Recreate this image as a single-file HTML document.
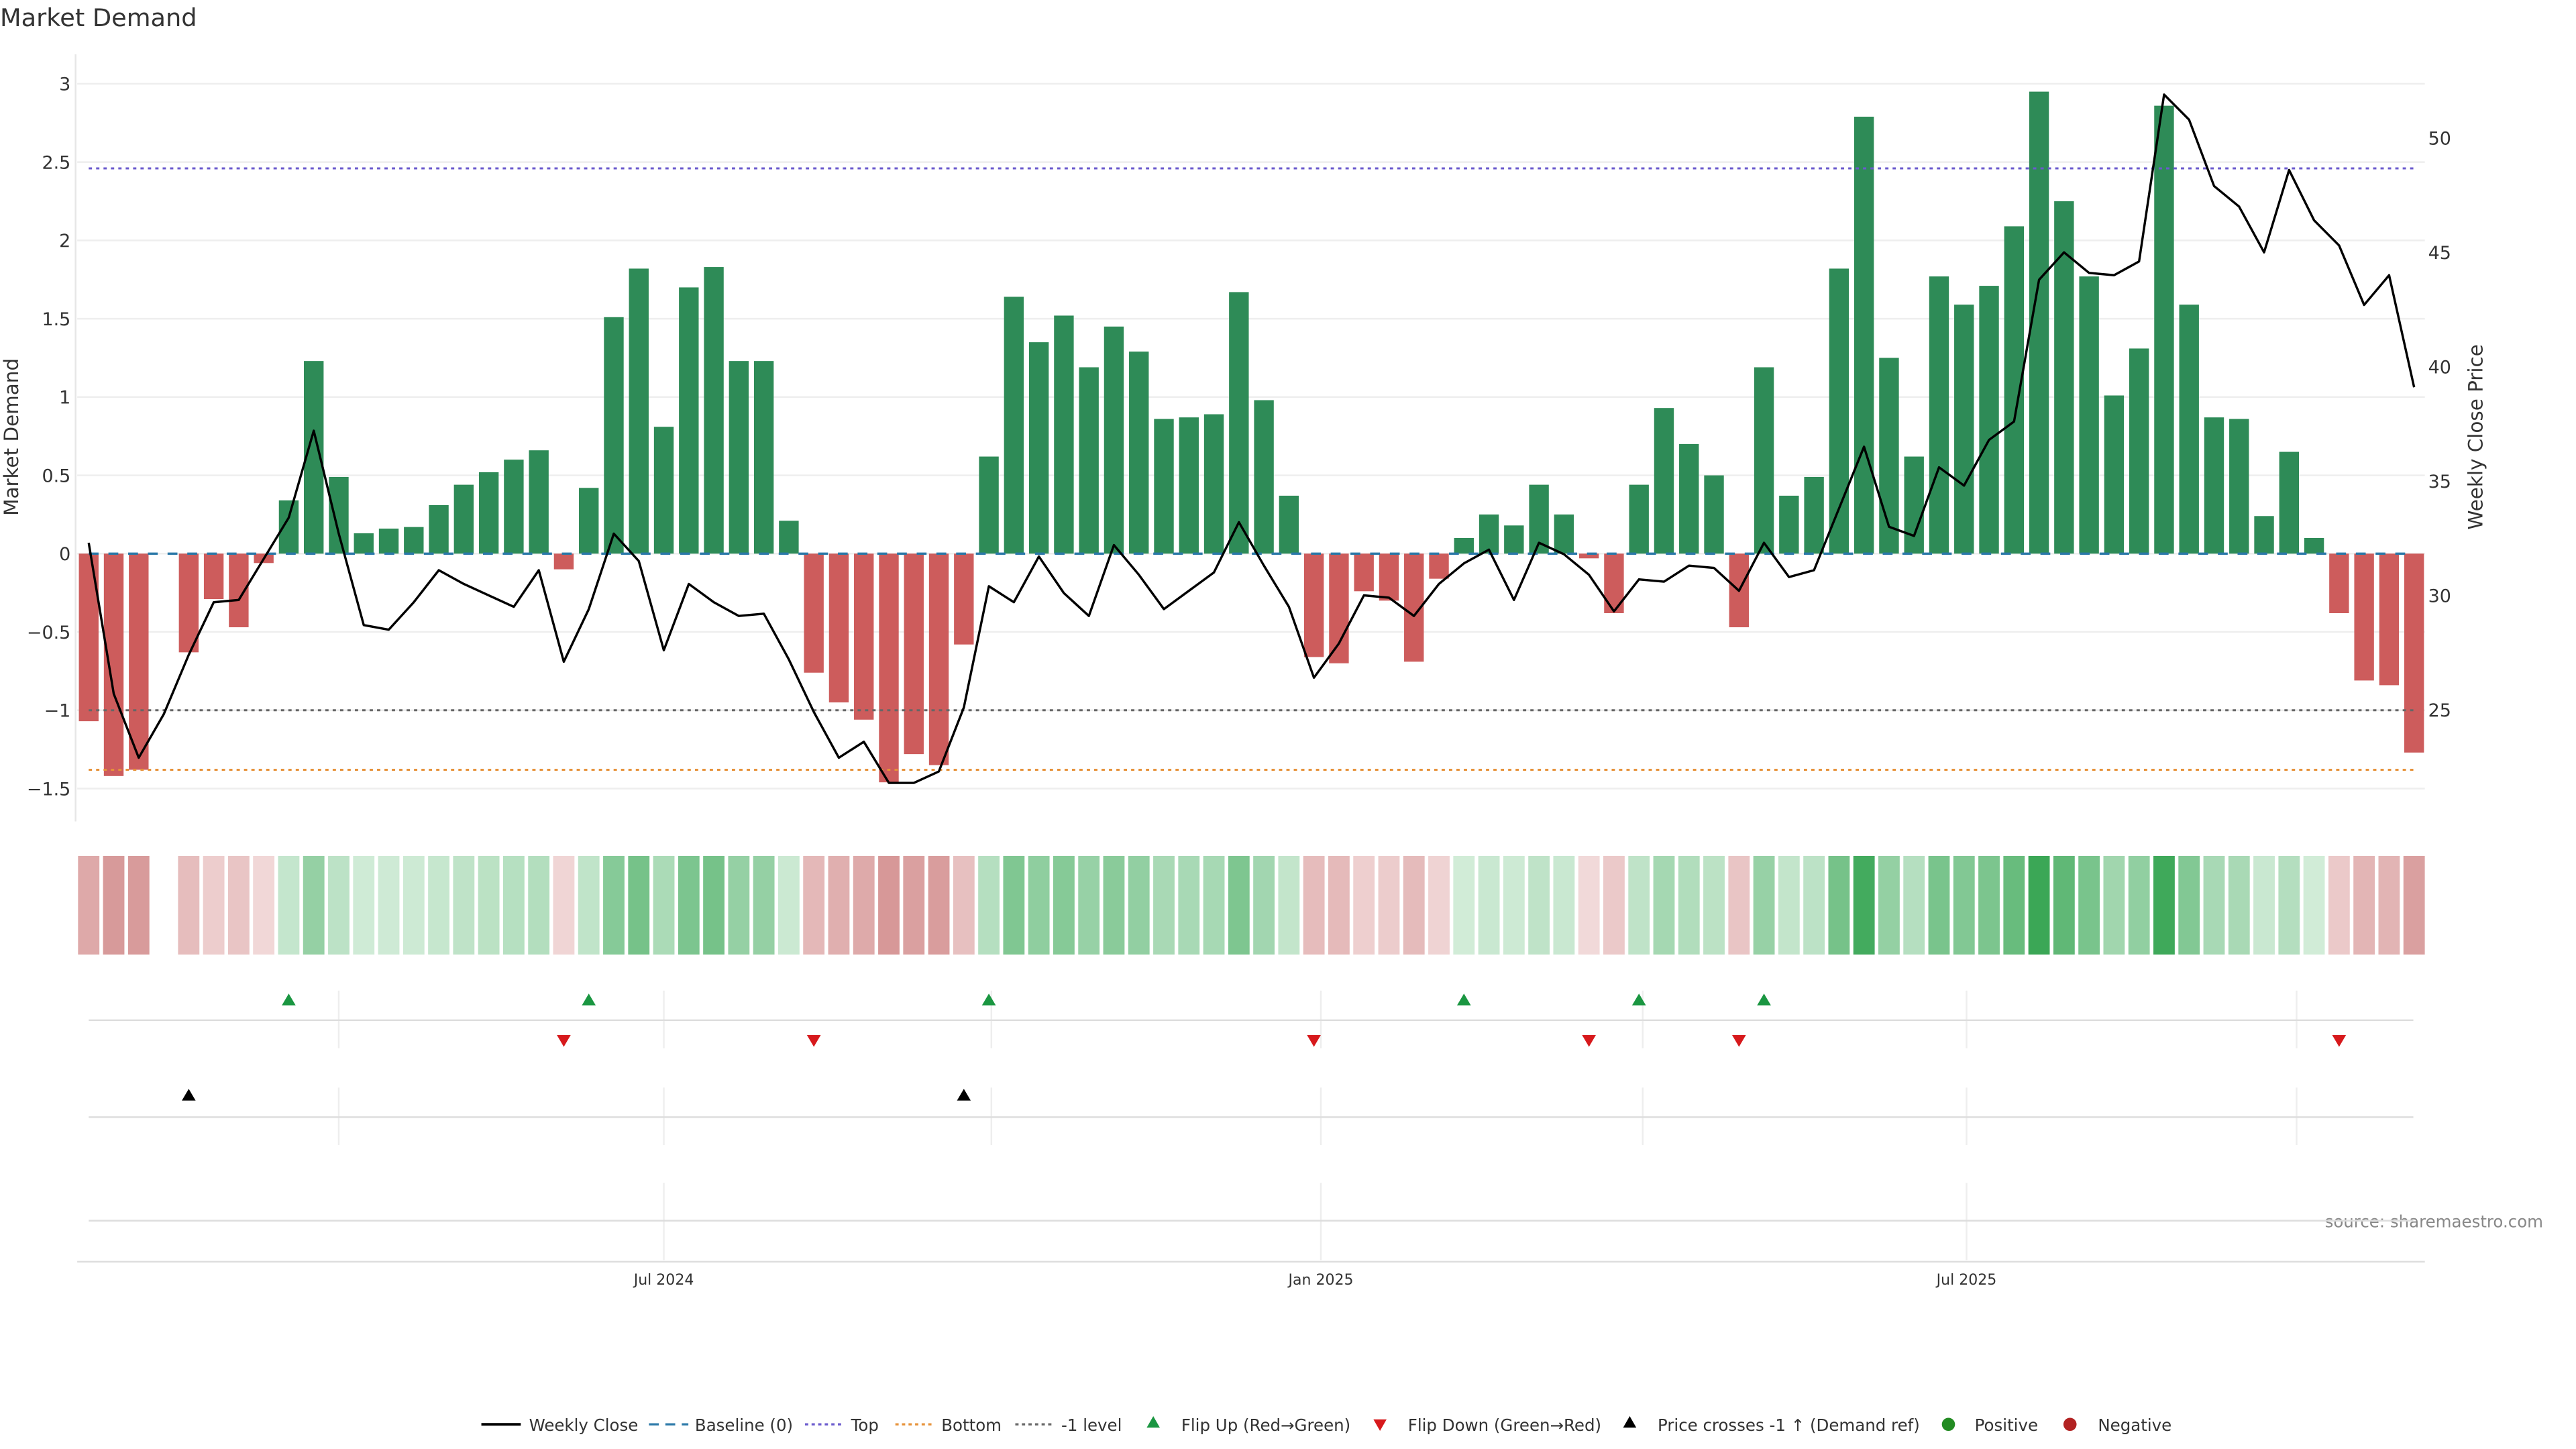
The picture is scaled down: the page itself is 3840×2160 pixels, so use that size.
<!DOCTYPE html>
<html><head><meta charset="utf-8"><style>
html,body{margin:0;padding:0;background:#fff;}
svg{display:block;font-family:"DejaVu Sans","Liberation Sans",sans-serif;}
</style></head><body>
<svg id="c" width="3840" height="2160" viewBox="0 0 1568 882" xmlns="http://www.w3.org/2000/svg">
<text x="0" y="16" font-size="15" fill="#333">Market Demand</text>
<text transform="translate(11,266) rotate(-90)" text-anchor="middle" font-size="12" fill="#333">Market Demand</text>
<text transform="translate(1511,266) rotate(-90)" text-anchor="middle" font-size="12" fill="#333">Weekly Close Price</text>
<text x="1548" y="747" text-anchor="end" font-size="10" fill="#888">source: sharemaestro.com</text>
<g id="grid"></g><g id="marks"></g>
</svg>
<script>
const demand=[-1.07,-1.42,-1.38,null,-0.63,-0.29,-0.47,-0.06,0.34,1.23,0.49,0.13,0.16,0.17,0.31,0.44,0.52,0.60,0.66,-0.10,0.42,1.51,1.82,0.81,1.70,1.83,1.23,1.23,0.21,-0.76,-0.95,-1.06,-1.46,-1.28,-1.35,-0.58,0.62,1.64,1.35,1.52,1.19,1.45,1.29,0.86,0.87,0.89,1.67,0.98,0.37,-0.66,-0.70,-0.24,-0.30,-0.69,-0.16,0.10,0.25,0.18,0.44,0.25,-0.03,-0.38,0.44,0.93,0.70,0.50,-0.47,1.19,0.37,0.49,1.82,2.79,1.25,0.62,1.77,1.59,1.71,2.09,2.95,2.25,1.77,1.01,1.31,2.86,1.59,0.87,0.86,0.24,0.65,0.10,-0.38,-0.81,-0.84,-1.27];
const price=[32.3,25.7,22.9,24.8,27.4,29.7,29.8,31.6,33.4,37.2,32.7,28.7,28.5,29.7,31.1,30.5,30.0,29.5,31.1,27.1,29.4,32.7,31.5,27.6,30.5,29.7,29.1,29.2,27.2,24.9,22.9,23.6,21.8,21.8,22.3,25.1,30.4,29.7,31.7,30.1,29.1,32.2,30.9,29.4,30.2,31.0,33.2,31.3,29.5,26.4,27.9,30.0,29.9,29.1,30.5,31.4,32.0,29.8,32.3,31.8,30.9,29.3,30.7,30.6,31.3,31.2,30.2,32.3,30.8,31.1,33.8,36.5,33.0,32.6,35.6,34.8,36.8,37.6,43.8,45.0,44.1,44.0,44.6,51.9,50.8,47.9,47.0,45.0,48.6,46.4,45.3,42.7,44.0,39.1];
const leftTicks=[3,2.5,2,1.5,1,0.5,0,-0.5,-1,-1.5];
const rightTicks=[50,45,40,35,30,25];
const refLevels={top:2.46,bottom:-1.38,minus1:-1};
const xLabels=["Jul 2024","Jan 2025","Jul 2025"];
const xLabelIdx=[23.0,49.28,75.1];
const quarterIdx=[10.0,23.0,36.1,49.28,62.15,75.1,88.3];

const NS="http://www.w3.org/2000/svg";
const X=i=>54+15.22*i;
const Y=v=>337-v*95.33;
const Y2=p=>84+(50-p)*13.92;
const pxToY2val=y=>50-(y-84)/13.92;
const grid=document.getElementById('grid'),marks=document.getElementById('marks');
function mk(tag,attrs,parent,text){const e=document.createElementNS(NS,tag);for(const k in attrs)e.setAttribute(k,attrs[k]);if(text!==undefined)e.textContent=text;parent.appendChild(e);return e;}
const fmt=v=>(v<0?"\u2212":"")+Math.abs(v);

leftTicks.forEach(t=>{
  const g=mk('line',{x1:47,x2:1476,y1:Y(t),y2:Y(t),stroke:'#eeeeee','stroke-width':1},grid);
  
  
  const l=mk('text',{x:43,y:Y(t)+4,'text-anchor':'end','font-size':11,fill:'#333'},grid,fmt(t));
  
  
});
rightTicks.forEach(t=>{
  const l=mk('text',{x:1478,y:Y2(t)+4,'font-size':11,fill:'#333'},grid,String(t));
  
  
});
const sp=mk('line',{x1:46,x2:46,y1:33,y2:500,stroke:'#e6e6e6','stroke-width':1},grid);



demand.forEach((v,i)=>{
  if(v===null)return;
  const y0=Y(0),y1=Y(v);
  const b=mk('rect',{x:X(i)-6,width:12,y:Math.min(y0,y1),height:Math.abs(y1-y0),fill:v>=0?'#2e8b57':'#cd5c5c'},marks);
  
  
});
[[refLevels.top,'#6a5acd','2,2.5'],[refLevels.bottom,'#e69138','2,2.5'],[refLevels.minus1,'#666','2,2.5'],[0,'#2a78a8','6,6']].forEach((r,k)=>{
  const l=mk('line',{x1:54,x2:1469,y1:Y(r[0]),y2:Y(r[0]),stroke:r[1],'stroke-width':k==3?1.4:1.2,'stroke-dasharray':r[2]},marks);
  
  
});
const pl=mk('polyline',{points:price.map((p,i)=>X(i)+','+Y2(p)).join(' '),fill:'none',stroke:'#000','stroke-width':1.4,'stroke-linejoin':'round'},marks);



function mix(a,b,t){return 'rgb('+a.map((c,j)=>Math.round(c+(b[j]-c)*t)).join(',')+')';}
demand.forEach((v,i)=>{
  if(v===null)return;
  let c;
  if(v>=0)c=mix([214,238,220],[56,166,84],Math.min(1,v/3));
  else c=mix([242,218,218],[214,150,150],Math.min(1,-v/1.5));
  const r=mk('rect',{x:X(i)-6.5,y:521,width:13,height:60,fill:c},marks);
  
  
});

[[603,638,621],[662,697,680],[720,767,743]].forEach((p,k)=>{
  const qs=k==2?xLabelIdx:quarterIdx;
  qs.forEach(q=>{const g=mk('line',{x1:X(q),x2:X(q),y1:p[0],y2:p[1],stroke:'#eeeeee'},grid);
    
    });
  const h=mk('line',{x1:54,x2:1469,y1:p[2],y2:p[2],stroke:'#dddddd'},grid);
  
  
});
const ax=mk('line',{x1:47,x2:1476,y1:768,y2:768,stroke:'#dddddd'},grid);


xLabels.forEach((t,k)=>{
  const l=mk('text',{x:X(xLabelIdx[k]),y:782,'text-anchor':'middle','font-size':9,fill:'#333'},grid,t);
  
  
});
function tri(x,y,up,col,name){
  const s=4.2;
  const pts=up?`${x},${y-s} ${x-s},${y+s*0.7} ${x+s},${y+s*0.7}`:`${x},${y+s} ${x-s},${y-s*0.7} ${x+s},${y-s*0.7}`;
  const t=mk('polygon',{points:pts,fill:col},marks);
  
  
}
for(let i=1;i<demand.length;i++){
  let j=i-1;while(j>=0&&demand[j]===null)j--;
  const a=demand[j],b=demand[i];
  if(b===null||j<0)continue;
  if(a<0&&b>=0)tri(X(i),609,true,'#1a9641','flip-up-marker');
  if(a>=0&&b<0)tri(X(i),633,false,'#d7191c','flip-down-marker');
}
const thrPrice=pxToY2val(Y(refLevels.minus1));
for(let i=1;i<price.length;i++){
  if(price[i-1]<thrPrice&&price[i]>=thrPrice)tri(X(i),667,true,'#000','price-cross-marker');
}

const lg=mk('g',{},marks);


const items=[['line','#000','','Weekly Close',293,322],['line','#2a78a8','6,4','Baseline (0)',395,423],['line','#6a5acd','2,2','Top',490,518],['line','#e69138','2,2','Bottom',545,573],['line','#666','2,2','-1 level',618,646],['up','#1a9641','','Flip Up (Red\u2192Green)',702,719],['down','#d7191c','','Flip Down (Green\u2192Red)',840,857],['up','#000','','Price crosses -1 \u2191 (Demand ref)',992,1009],['dot','#228b22','','Positive',1186,1202],['dot','#b22222','','Negative',1260,1277]];
items.forEach(it=>{
  const x=it[4],y=867;
  const g=mk('g',{},lg);
  
  
  if(it[0]=='line'){mk('line',{x1:x,x2:x+24,y1:y,y2:y,stroke:it[1],'stroke-width':it[3]=='Weekly Close'?1.6:1.3,'stroke-dasharray':it[2]},g);}
  else if(it[0]=='dot'){mk('circle',{cx:x,cy:y,r:4,fill:it[1]},g);}
  else{const s=4;mk('polygon',{points:it[0]=='up'?`${x},${y-s-1} ${x-s},${y+s-2} ${x+s},${y+s-2}`:`${x},${y+s} ${x-s},${y-s+1} ${x+s},${y-s+1}`,fill:it[1]},g);}
  mk('text',{x:it[5],y:y+4,'font-size':10,fill:'#333'},g,it[3]);
});
</script>
</body></html>
